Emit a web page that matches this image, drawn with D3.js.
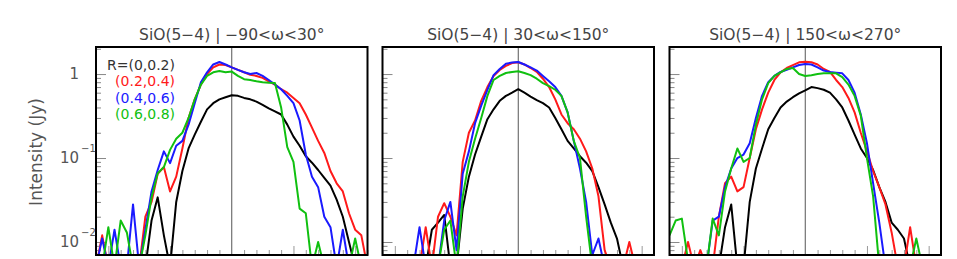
<!DOCTYPE html>
<html>
<head>
<meta charset="utf-8">
<script src="https://cdn.jsdelivr.net/npm/d3@7"></script>
<style>
  body { margin: 0; background: #fff; }
  svg text { font-family: "DejaVu Sans", sans-serif; }
</style>
</head>
<body>
<div id="chart"></div>
<script>
// canaux de vitesse (km/s), un point par canal
const velocity = [
  -22, -21, -20, -19, -18, -17, -16, -15, -14,
  -13, -12, -11, -10, -9, -8, -7, -6, -5,
  -4, -3, -2, -1, 0, 1, 2, 3, 4,
  5, 6, 7, 8, 9, 10, 11, 12, 13,
  14, 15, 16, 17, 18, 19, 20, 21, 22
];

const panelTitles = [
  "SiO(5\u22124) | \u221290<\u03c9<30\u00b0",
  "SiO(5\u22124) | 30<\u03c9<150\u00b0",
  "SiO(5\u22124) | 150<\u03c9<270\u00b0"
];
const ringLabels = ["R=(0,0.2)", "(0.2,0.4)", "(0.4,0.6)", "(0.6,0.8)"];
const ringColors = ["#000000", "#ff1a1a", "#1a1aff", "#10c010"];

// axe y (Jy)
const yMajorTicks = [0.01, 0.1, 1];
const yTickBase = ["10", "10", "1"];
const yTickExp = ["\u22122", "\u22121", ""];
const yMinorTicks = [0.008, 0.009, 0.02, 0.03, 0.04, 0.05, 0.06, 0.07, 0.08, 0.09,
  0.2, 0.3, 0.4, 0.5, 0.6, 0.7, 0.8, 0.9, 2];
const xMajorTicks = [-20, -10, 10, 20];
const xMinorTicks = [-22, -18, -16, -14, -12, -8, -6, -4, -2, 2, 4, 6, 8, 12, 14, 16, 18, 22];

// panneau 1 : -90 < w < 30
const s1k = [.005, .005, .005, .005, .005, .005, .005, .005, .005,
  .018, .034, .012, .005, .03, .07, .13, .19, .27,
  .38, .45, .5, .53, .56, .55, .52, .5, .47,
  .43, .39, .36, .33, .25, .18, .14, .105, .088,
  .072, .058, .047, .032, .02, .01, .005, .005, .005];
const s1r = [.005, .012, .005, .005, .005, .005, .005, .005, .02,
  .03, .065, .078, .04, .06, .13, .3, .5, .75,
  1.0, 1.2, 1.3, 1.28, 1.2, 1.12, 1.05, .98, .95,
  .9, .82, .75, .66, .6, .52, .45, .33, .23,
  .16, .115, .07, .05, .04, .022, .014, .012, .005];
const s1b = [.005, .011, .005, .014, .005, .005, .028, .005, .014,
  .04, .072, .12, .087, .14, .16, .25, .45, .8,
  1.05, 1.3, 1.39, 1.3, 1.2, 1.12, 1.05, 1.0, 1.03,
  .95, .85, .75, .66, .55, .45, .28, .11, .06,
  .045, .02, .015, .005, .014, .005, .005, .005, .005];
const s1g = [.005, .005, .015, .005, .018, .013, .005, .005, .012,
  .034, .066, .078, .125, .17, .2, .3, .5, .75,
  .95, 1.05, 1.09, 1.05, 1.07, .95, .87, .85, .82,
  .8, .79, .78, .4, .135, .09, .025, .022, .005,
  .01, .005, .005, .005, .005, .005, .011, .005, .005];

// panneau 2 : 30 < w < 150
const s2k = [.005, .005, .005, .005, .005, .005, .005, .005, .014,
  .017, .021, .005, .005, .025, .06, .11, .18, .29,
  .38, .48, .55, .6, .66, .6, .54, .49, .45,
  .4, .3, .22, .16, .13, .105, .088, .07, .045,
  .028, .017, .011, .005, .005, .005, .005, .005, .005];
const s2r = [.005, .005, .005, .005, .005, .005, .005, .015, .005,
  .02, .029, .02, .012, .09, .2, .28, .48, .7,
  .95, 1.12, 1.25, 1.35, 1.38, 1.3, 1.18, 1.06, .88,
  .7, .5, .33, .26, .22, .17, .12, .075, .035,
  .008, .005, .005, .005, .01, .005, .005, .005, .005];
const s2b = [.005, .005, .005, .005, .005, .005, .015, .005, .005,
  .005, .018, .03, .008, .065, .12, .26, .42, .65,
  .97, 1.15, 1.33, 1.37, 1.39, 1.3, 1.2, 1.1, .95,
  .82, .7, .55, .35, .16, .075, .03, .007, .011,
  .005, .005, .005, .005, .005, .005, .005, .005, .005];
const s2g = [.005, .005, .005, .005, .005, .005, .005, .005, .005,
  .005, .014, .018, .005, .035, .09, .17, .3, .55,
  .85, .95, 1.03, 1.06, 1.08, 1.03, .97, .88, .78,
  .72, .65, .55, .35, .16, .1, .02, .005, .005,
  .005, .005, .005, .005, .005, .005, .005, .005, .005];

// panneau 3 : 150 < w < 270
const s3k = [.005, .005, .005, .005, .005, .005, .005, .005, .005,
  .015, .028, .005, .005, .03, .075, .13, .22, .3,
  .4, .47, .53, .59, .64, .7, .68, .65, .6,
  .5, .4, .28, .19, .13, .1, .072, .045, .03,
  .017, .014, .011, .005, .005, .005, .005, .005, .005];
const s3r = [.005, .005, .005, .01, .005, .008, .005, .005, .02,
  .05, .06, .04, .045, .1, .22, .38, .6, .85,
  1.05, 1.18, 1.28, 1.38, 1.4, 1.38, 1.3, 1.15, 1.06,
  .85, .7, .52, .35, .2, .12, .07, .045, .028,
  .013, .005, .005, .015, .005, .005, .005, .005, .005];
const s3b = [.005, .005, .005, .005, .005, .005, .005, .018, .02,
  .045, .075, .1, .11, .15, .3, .55, .8, .95,
  1.06, 1.12, 1.2, 1.28, 1.32, 1.3, 1.2, 1.1, 1.06,
  1.04, 1.02, .85, .6, .33, .15, .05, .017, .005,
  .005, .005, .005, .005, .005, .005, .005, .005, .005];
const s3g = [.012, .018, .019, .006, .005, .005, .005, .019, .012,
  .04, .075, .13, .09, .1, .25, .5, .78, .95,
  1.05, 1.15, 1.18, 1.0, .95, .97, 1.0, 1.02, 1.02,
  1.02, .92, .75, .55, .32, .1, .035, .005, .005,
  .005, .005, .005, .005, .011, .005, .005, .005, .005];

const panelSeries = [
  [s1k, s1r, s1b, s1g],
  [s2k, s2r, s2b, s2g],
  [s3k, s3r, s3b, s3g]
];

// dimensions
const width = 957, height = 259;
const panelLeft = [96, 382.5, 669.5];
const panelW = 271.5;
const plotTop = 47, plotBottom = 255;

const svg = d3.select("#chart").append("svg")
  .attr("width", width)
  .attr("height", height);

const y = d3.scaleLog().domain([0.0070, 2.1]).range([plotBottom, plotTop]);

panelSeries.forEach(function (series, p) {
  const left = panelLeft[p];
  const x = d3.scaleLinear().domain([-22, 22]).range([left, left + panelW]);
  const g = svg.append("g");

  g.append("clipPath").attr("id", "clip" + p)
    .append("rect")
    .attr("x", left).attr("y", plotTop)
    .attr("width", panelW).attr("height", plotBottom - plotTop);

  // graduations y (vers l'interieur)
  g.append("g").attr("transform", "translate(" + left + ",0)")
    .call(d3.axisRight(y).tickValues(yMinorTicks).tickSize(5).tickFormat(""))
    .call(a => a.select(".domain").remove())
    .selectAll("line").attr("stroke", "#888");
  g.append("g").attr("transform", "translate(" + left + ",0)")
    .call(d3.axisRight(y).tickValues(yMajorTicks).tickSize(10).tickFormat(""))
    .call(a => a.select(".domain").remove())
    .selectAll("line").attr("stroke", "#888");

  // graduations x
  g.append("g").attr("transform", "translate(0," + plotBottom + ")")
    .call(d3.axisTop(x).tickValues(xMinorTicks).tickSize(5).tickFormat(""))
    .call(a => a.select(".domain").remove())
    .selectAll("line").attr("stroke", "#999");
  g.append("g").attr("transform", "translate(0," + plotBottom + ")")
    .call(d3.axisTop(x).tickValues(xMajorTicks).tickSize(9).tickFormat(""))
    .call(a => a.select(".domain").remove())
    .selectAll("line").attr("stroke", "#999");

  // ligne centrale v = 0
  g.append("line")
    .attr("x1", x(0)).attr("x2", x(0))
    .attr("y1", plotTop).attr("y2", plotBottom)
    .attr("stroke", "#555").attr("stroke-width", 1);

  const line = d3.line()
    .x((d, i) => x(velocity[i]))
    .y(d => y(d));

  g.append("g").attr("clip-path", "url(#clip" + p + ")")
    .selectAll("path")
    .data(series)
    .enter()
    .append("path")
    .attr("d", line)
    .attr("fill", "none")
    .attr("stroke", (d, i) => ringColors[i])
    .attr("stroke-width", 2)
    .attr("stroke-linejoin", "round");

  // cadre
  g.append("rect")
    .attr("x", left).attr("y", plotTop)
    .attr("width", panelW).attr("height", plotBottom - plotTop)
    .attr("fill", "none").attr("stroke", "#000").attr("stroke-width", 2);

  g.append("text")
    .attr("x", left + panelW / 2).attr("y", 40)
    .attr("text-anchor", "middle")
    .attr("font-size", 15.5).attr("fill", "#444")
    .text(panelTitles[p]);
});

// etiquettes y du premier panneau
yMajorTicks.forEach(function (v, i) {
  svg.append("text")
    .attr("x", 79).attr("y", y(v) + 5)
    .attr("text-anchor", "end")
    .attr("font-size", 15).attr("fill", "#555")
    .text(yTickBase[i]);
  if (yTickExp[i]) {
    svg.append("text")
      .attr("x", 81).attr("y", y(v) - 6)
      .attr("font-size", 10).attr("fill", "#555")
      .text(yTickExp[i]);
  }
});

svg.append("text")
  .attr("transform", "translate(42,152) rotate(-90)")
  .attr("text-anchor", "middle")
  .attr("font-size", 17).attr("fill", "#555")
  .text("Intensity (Jy)");

// legende
ringLabels.forEach(function (l, i) {
  svg.append("text")
    .attr("x", 175).attr("y", 70 + i * 16.3)
    .attr("text-anchor", "end")
    .attr("font-size", 14)
    .attr("fill", i === 0 ? "#333" : ringColors[i])
    .text(l);
});
</script>
</body>
</html>
